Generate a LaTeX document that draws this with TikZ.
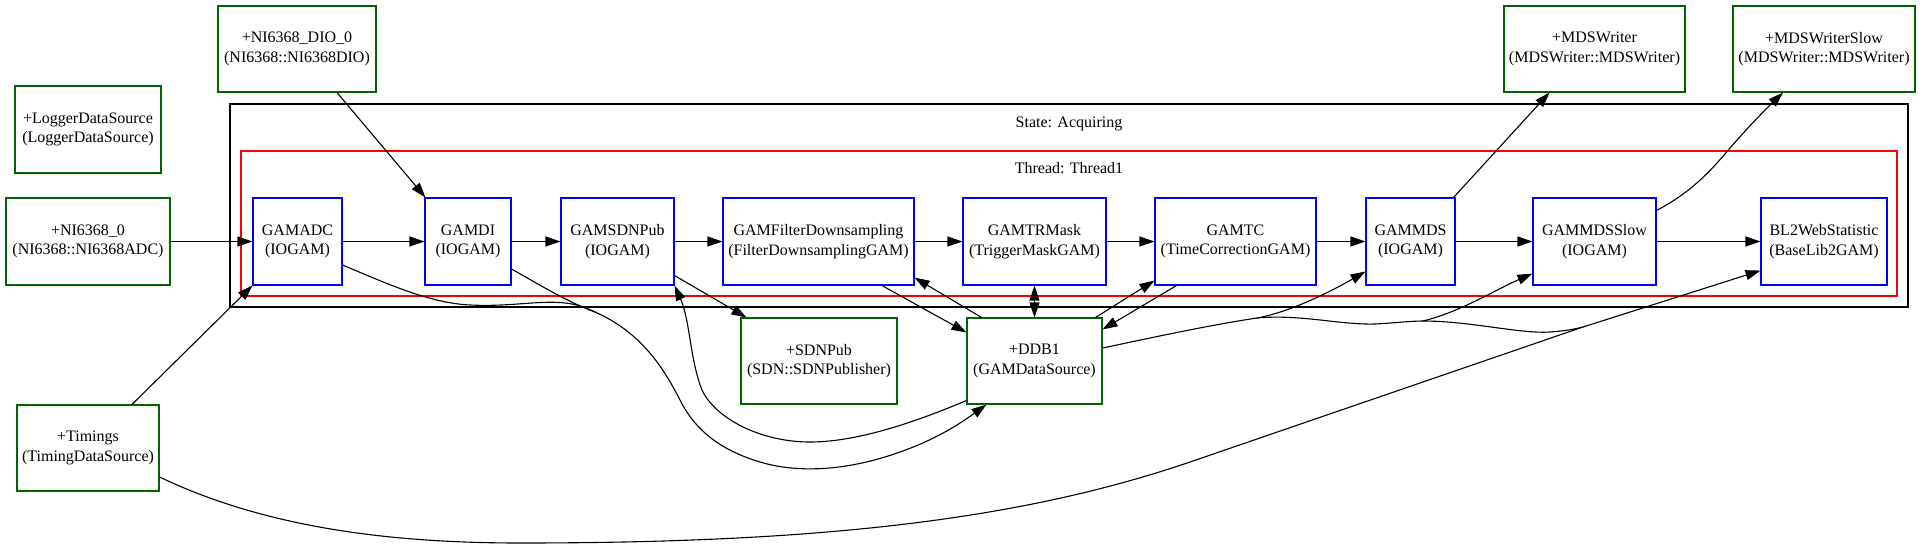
\documentclass[tikz,border=0pt]{standalone}
\usepackage{fontspec}
\setmainfont{Liberation Serif}
\usetikzlibrary{arrows.meta,calc}
\definecolor{dsgreen}{RGB}{0,100,0}
\definecolor{gamblue}{RGB}{0,0,255}
\definecolor{thrred}{RGB}{255,0,0}
\begin{document}
\begin{tikzpicture}[x=1pt,y=-1pt,
  every node/.style={font=\fontsize{16}{19.5}\selectfont},
  gvtip/.tip={Triangle[length=15pt,width=10pt]},
  box/.style={draw, rectangle, inner sep=0pt, align=center, line width=1.1pt},
  ds/.style={box, draw=dsgreen},
  gam/.style={box, draw=gamblue},
  edge/.style={line width=1.1pt, -gvtip},
  bothedge/.style={line width=1.1pt, gvtip-gvtip},
  plain/.style={line width=1.1pt},
  cluster/.style={draw, rectangle, inner sep=0pt, line width=1.1pt},
]
\useasboundingbox (0,0) rectangle (1924,549);

% clusters
\node[cluster, draw=black, minimum width=1678pt, minimum height=203pt] (state) at (1069,205.5) {};
\node[anchor=base] (statelabel) at (1069,127) {State: Acquiring};
\node[cluster, draw=thrred, minimum width=1656pt, minimum height=145pt] (thread) at (1069,223.5) {};
\node[anchor=base] (threadlabel) at (1069,173) {Thread: Thread1};

% data sources
\node[ds, minimum width=146pt, minimum height=87pt] (logger) at (88,129.5) {+LoggerDataSource\\(LoggerDataSource)};
\node[ds, minimum width=164pt, minimum height=87pt] (ni0) at (88,241.5) {+NI6368\_0\\(NI6368::NI6368ADC)};
\node[ds, minimum width=158pt, minimum height=86pt] (dio) at (297,49) {+NI6368\_DIO\_0\\(NI6368::NI6368DIO)};
\node[ds, minimum width=142pt, minimum height=86pt] (timings) at (88,448) {+Timings\\(TimingDataSource)};
\node[ds, minimum width=156pt, minimum height=86pt] (sdnpub) at (819,361) {+SDNPub\\(SDN::SDNPublisher)};
\node[ds, minimum width=135pt, minimum height=86pt] (ddb1) at (1034.5,361) {+DDB1\\(GAMDataSource)};
\node[ds, minimum width=181pt, minimum height=86pt] (mdswriter) at (1594.5,49) {+MDSWriter\\(MDSWriter::MDSWriter)};
\node[ds, minimum width=182pt, minimum height=86pt] (mdswriterslow) at (1824,49) {+MDSWriterSlow\\(MDSWriter::MDSWriter)};

% GAMs
\node[gam, minimum width=89pt, minimum height=87pt] (gamadc) at (297.5,241.5) {GAMADC\\(IOGAM)};
\node[gam, minimum width=86pt, minimum height=87pt] (gamdi) at (468,241.5) {GAMDI\\(IOGAM)};
\node[gam, minimum width=113pt, minimum height=87pt] (gamsdnpub) at (617.5,241.5) {GAMSDNPub\\(IOGAM)};
\node[gam, minimum width=191pt, minimum height=87pt] (gamfilter) at (818.5,241.5) {GAMFilterDownsampling\\(FilterDownsamplingGAM)};
\node[gam, minimum width=143pt, minimum height=87pt] (gamtrmask) at (1034.5,241.5) {GAMTRMask\\(TriggerMaskGAM)};
\node[gam, minimum width=161pt, minimum height=87pt] (gamtc) at (1235.5,241.5) {GAMTC\\(TimeCorrectionGAM)};
\node[gam, minimum width=89pt, minimum height=87pt] (gammds) at (1410.5,241.5) {GAMMDS\\(IOGAM)};
\node[gam, minimum width=123pt, minimum height=87pt] (gammdsslow) at (1594.5,241.5) {GAMMDSSlow\\(IOGAM)};
\node[gam, minimum width=126pt, minimum height=87pt] (bl2) at (1824,241.5) {BL2WebStatistic\\(BaseLib2GAM)};

% merge points
\coordinate (m1) at (595,312);
\coordinate (m2) at (1257,318);
\coordinate (m3) at (1423,321);
\coordinate (m4) at (1583,327);

% straight chain
\draw[edge] (ni0.east) -- (gamadc.west);
\draw[edge] (gamadc.east) -- (gamdi.west);
\draw[edge] (gamdi.east) -- (gamsdnpub.west);
\draw[edge] (gamsdnpub.east) -- (gamfilter.west);
\draw[edge] (gamfilter.east) -- (gamtrmask.west);
\draw[edge] (gamtrmask.east) -- (gamtc.west);
\draw[edge] (gamtc.east) -- (gammds.west);
\draw[edge] (gammds.east) -- (gammdsslow.west);
\draw[edge] (gammdsslow.east) -- (bl2.west);

% other straight edges
\draw[edge] ([xshift=40pt]dio.south) -- ([xshift=1pt]gamdi.north west);
\draw[edge] ([xshift=44pt]timings.north) -- (gamadc.south west);
\draw[edge] ([xshift=-2pt]gammds.north east) -- ([xshift=-45pt]mdswriter.south);
\draw[edge] ([yshift=-13pt]gammdsslow.north east) .. controls (1690,193) and (1710,172) .. (1730,148) .. controls (1750,125) and (1765,110) .. ([xshift=-41pt]mdswriterslow.south);
\draw[edge] ([yshift=10pt]gamsdnpub.south east) -- ([xshift=6pt]sdnpub.north west);
\draw[edge] ([xshift=63.5pt]gamfilter.south) -- ([yshift=-15pt]ddb1.north west);
\draw[edge] ([xshift=15pt]ddb1.north west) -- ([yshift=8pt]gamfilter.south east);
\draw[bothedge] (gamtrmask.south) -- (ddb1.north);
\draw[edge] ([xshift=22pt]gamtc.south west) -- ([yshift=-12pt]ddb1.north east);
\draw[edge] ([xshift=-7pt]ddb1.north east) -- ([yshift=5pt]gamtc.south west);

% curved edges into DDB1
\draw[plain] ([yshift=-23.5pt]gamadc.east) .. controls (390,285) and (430,303) .. (470,305) .. controls (510,307) and (540,300) .. (565,303) .. controls (575,304) and (585,307) .. (m1);
\draw[plain] ([yshift=-27.5pt]gamdi.east) .. controls (545,288) and (570,303) .. (m1);
\draw[edge] (m1) .. controls (640,332) and (662,365) .. (680,400) .. controls (695,430) and (720,450) .. (760,462) .. controls (800,474) and (850,470) .. (900,452) .. controls (940,438) and (965,420) .. ([xshift=20pt]ddb1.south west);

% DDB1 back to GAMSDNPub
\draw[edge] ([yshift=4pt]ddb1.south west) .. controls (920,420) and (860,442) .. (810,442) .. controls (760,442) and (715,418) .. (702,390) .. controls (690,360) and (690,320) .. (gamsdnpub.south east);

% DDB1 to GAMMDS, GAMMDSSlow, BL2WebStatistic
\draw[plain] ([yshift=13pt]ddb1.east) .. controls (1150,338) and (1210,325) .. (m2);
\draw[edge] (m2) .. controls (1290,312) and (1330,292) .. ([yshift=14pt]gammds.south west);
\draw[plain] (m2) .. controls (1300,314) and (1340,325) .. (1375,324) .. controls (1395,323) and (1410,321) .. (m3);
\draw[edge] (m3) .. controls (1460,312) and (1495,290) .. ([yshift=12pt]gammdsslow.south west);
\draw[plain] (m3) .. controls (1470,321) and (1520,334) .. (1550,332) .. controls (1565,331) and (1575,329) .. (m4);
\draw[edge] (m4) -- ([yshift=15pt]bl2.south west);

% Timings long curve
\draw[plain] ([yshift=-29pt]timings.east) .. controls (260,525) and (380,543) .. (520,543) .. controls (820,543) and (1020,520) .. (1190,462) -- (m4);
\end{tikzpicture}
\end{document}
